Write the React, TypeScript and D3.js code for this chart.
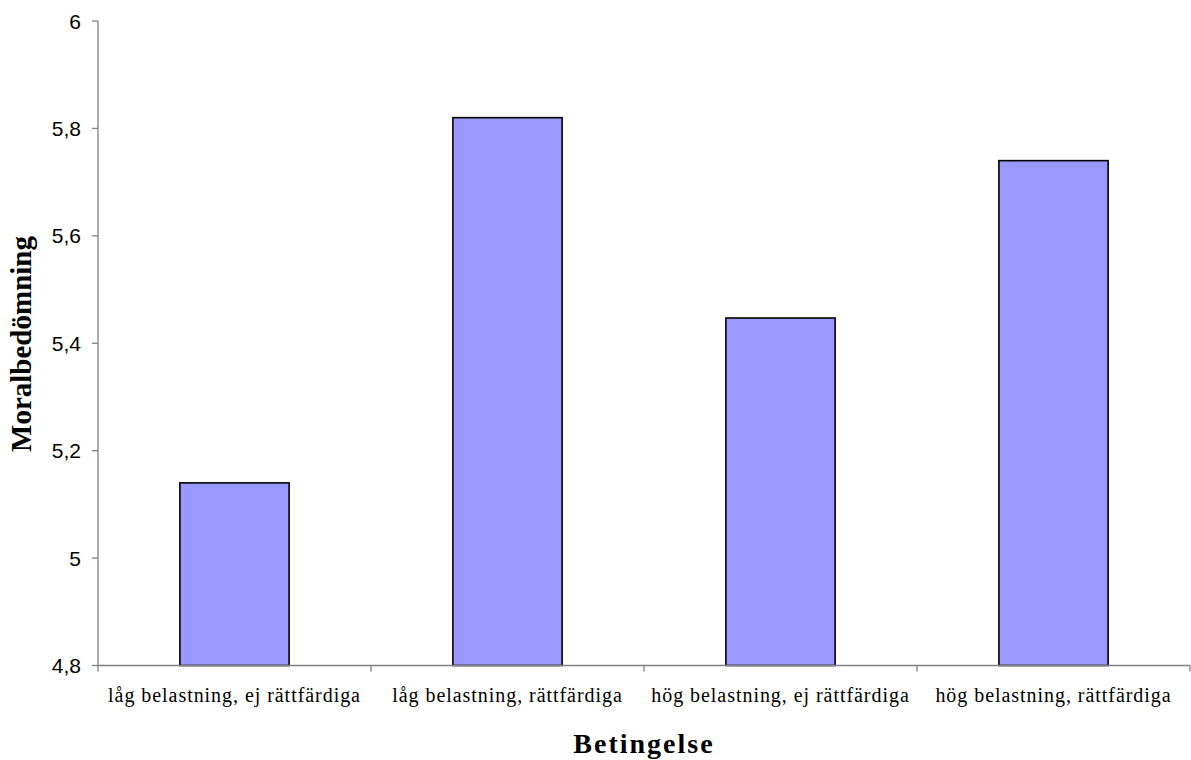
import * as d3 from 'd3'
import React from "react";

const categories = [
    "låg belastning, ej rättfärdiga",
    "låg belastning, rättfärdiga",
    "hög belastning, ej rättfärdiga",
    "hög belastning, rättfärdiga",
];
const values = [5.14, 5.82, 5.447, 5.74];
const yTicks = [4.8, 5, 5.2, 5.4, 5.6, 5.8, 6];

const width = 1191;
const height = 760;
const left = 98;
const right = 1190;
const top = 21;
const bottom = 665.5;

const App: React.FC = () => {
    const x = d3.scaleBand<string>().domain(categories).range([left, right]).paddingInner(0).paddingOuter(0);
    const y = d3.scaleLinear().domain([4.8, 6]).range([bottom, top]);
    const barW = x.bandwidth() * 0.4;
    const fmt = (v: number) => String(v).replace('.', ',');

    return (
        <svg width={width} height={height} style={{ position: 'absolute', left: 0, top: 0 }}>
            <rect x={0} y={0} width={width} height={height} fill="#fff" />
            {categories.map((c, i) => (
                <rect key={c}
                    x={x(c)! + (x.bandwidth() - barW) / 2}
                    y={y(values[i])}
                    width={barW}
                    height={bottom - y(values[i])}
                    fill="#9999ff" stroke="#000" strokeWidth={1.6} />
            ))}
            <g stroke="#808080" strokeWidth={1.3}>
                <line x1={left} x2={left} y1={top} y2={bottom} />
                <line x1={left} x2={right} y1={bottom} y2={bottom} />
                {yTicks.map(t => (
                    <line key={t} x1={left - 6} x2={left} y1={y(t)} y2={y(t)} />
                ))}
                {[...categories.map(c => x(c)!), right].map((p, i) => (
                    <line key={i} x1={p} x2={p} y1={bottom} y2={bottom + 6} />
                ))}
            </g>
            <g fontFamily="'Liberation Sans', Arial, sans-serif" fontSize={21} fill="#000" textAnchor="end">
                {yTicks.map(t => (
                    <text key={t} x={left - 17} y={y(t) + 7.5}>{fmt(t)}</text>
                ))}
            </g>
            <g fontFamily="'Liberation Serif', 'Times New Roman', serif" fontSize={20} fill="#000" textAnchor="middle">
                {categories.map(c => (
                    <text key={c} x={x(c)! + x.bandwidth() / 2} y={702} letterSpacing={0.95}>{c}</text>
                ))}
            </g>
            <text x={644} y={753} textAnchor="middle" fontFamily="'Liberation Serif', 'Times New Roman', serif"
                fontSize={28} fontWeight="bold" letterSpacing={2}>Betingelse</text>
            <text transform="translate(31,344) rotate(-90)" textAnchor="middle"
                fontFamily="'Liberation Serif', 'Times New Roman', serif"
                fontSize={29} fontWeight="bold">Moralbedömning</text>
        </svg>
    );
}

export default App;
